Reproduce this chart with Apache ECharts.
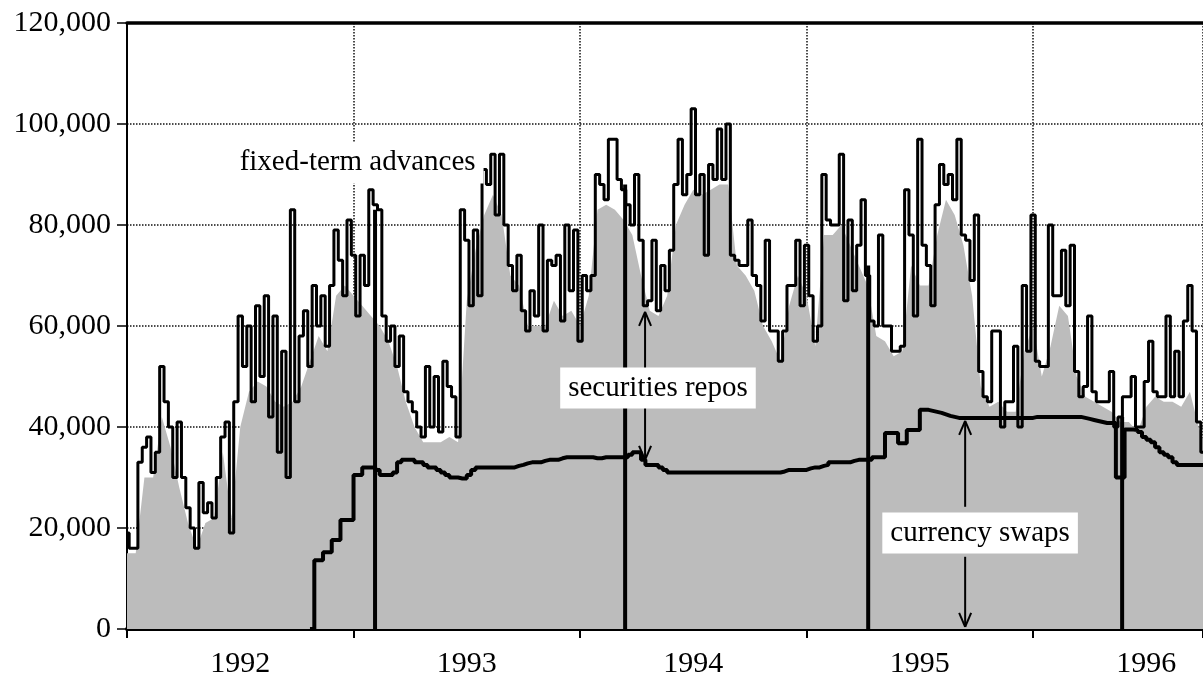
<!DOCTYPE html>
<html><head><meta charset="utf-8">
<script src="https://cdn.jsdelivr.net/npm/echarts@6/dist/echarts.min.js"></script>
<style>html,body{margin:0;padding:0;background:#fff}#c{width:1203px;height:673px}</style>
</head><body><div id="c"></div>
<script>
// ---- data (thousands) ----
const yearTicks = [1992, 1993, 1994, 1995, 1996];
const yearLabels = ['1992', '1993', '1994', '1995', '1996'];

// total outstanding (weekly, from start of 1992)
const top1992 = [19,16,16,33,36,38,31,35,52,45,40,30,41,30,24,20,16,29,23,25,22,30,38,41,19,45,62,52,60,45,64,50,66,42,62,35,55,30,83,45,58,63,52,68,60,66,56,68,79,73,66,81];
const top1993 = [74,62,74,68,87,84,83,62,57,60,52,58,47,45,43,40,38,52,40,50,39,53,48,46,38,83,77,64,79,66,91,88,94,82,94,80,72,67,74,63,59,67,62,80,59,73,72,74,61,80,67,79];
const top1994 = [57,70,67,70,90,88,85,97,97,89,87,84,80,90,77,64,65,77,63,72,67,75,88,97,86,90,103,86,90,74,92,89,99,89,100,74,73,72,72,81,70,68,61,77,59,59,53,59,68,68,77,64];
const top1995 = [76,66,57,60,90,81,80,80,94,65,81,67,76,85,70,61,60,78,60,60,55,55,56,87,78,62,97,76,72,64,84,92,88,90,85,97,78,77,69,82,51,46,45,59,59,40,45,45,56,40,68,55];
const top1996 = [82,53,52,52,80,66,66,75,64,76,51,46,48,62,47,45,45,45,51,40,42,46,46,50,40,40,49,57,47,46,46,62,46,55,46,61,68,59,41,35];

// shaded base level (fortnightly)
const fill1992 = [15,15,30,30,42,36,28,21,16,21,22,35,22,40,47,49,48,45,44,45,48,53,58,55,66,68];
const fill1993 = [66,64,62,60,57,52,45,40,37,37,37,38,37,65,75,82,86,82,70,68,60,60,60,65,62,63];
const fill1994 = [60,66,83,84,83,81,78,70,63,62,66,80,84,87,86,87,88,88,72,70,67,60,57,53,64,70];
const fill1995 = [66,56,78,78,80,76,72,68,58,57,54,55,72,68,68,78,85,82,76,66,48,44,45,43,43,55];
const fill1996 = [60,50,56,64,62,50,46,45,44,43,41,41,39,44,46,45,45,44,47,40,35];

// currency swaps (weekly, from week 42 of 1992)
const swap1992 = [0,13.6,13.6,15.2,15.2,17.6,17.6,21.6,21.6,21.6];
const swap1993 = [30.5,30.5,32,32,32,31.5,30.5,30.5,30.5,31,33,33.5,33.5,33.5,33,33,32.5,32,32,31.5,31,30.5,30,30,29.8,29.8,30.5,31.5,32,32,32,32,32,32,32,32,32,32.3,32.5,32.8,33,33,33,33.3,33.5,33.5,33.5,33.8,34,34,34,34];
const swap1994 = [34,34,34,33.8,33.8,34,34,34,34,34,34,34.5,35,35,33.5,32.5,32.5,32.5,32,31.5,31,31,31,31,31,31,31,31,31,31,31,31,31,31,31,31,31,31,31,31,31,31,31,31,31,31,31.2,31.5,31.5,31.5,31.5,31.5];
const swap1995 = [31.8,32,32,32.3,32.5,33,33,33,33,33,33.3,33.5,33.5,33.5,33.5,34,34,34,38.8,38.8,38.8,36.8,36.8,39.4,39.4,39.4,43.4,43.4,43.2,43,42.8,42.5,42.2,42,41.8,41.8,41.8,41.8,41.8,41.8,41.8,41.8,41.8,41.8,41.8,41.8,41.8,41.8,41.8,41.8,41.8,41.8];
const swap1996 = [42,42,42,42,42,42,42,42,42,42,42,41.8,41.6,41.4,41.2,41,40.8,40.8,40.8,30,30,39.5,39.5,39.4,39,38,37.5,37,36,35,34.5,34,33,32.5,32.5,32.5,32.5,32.5,32.5,32.5];

// one-day drops of the total to zero (date as fractional year, level before drop)
const dropDates = [1993.095, 1994.199, 1995.272, 1996.393];
const dropTops = [83, 88, 72, 42];

// annotations: text, anchor (year, thousands)
const annotTexts = ['fixed-term advances', 'securities repos', 'currency swaps'];
const annotX = [1993.018, 1994.344, 1995.766];
const annotY = [92.3, 47.7, 19.0];
// arrows: year, from, to (thousands)
const arrowX = [1994.287, 1994.287, 1995.700, 1995.700];
const arrowFrom = [51.3, 43.8, 24.2, 14.3];
const arrowTo = [62.8, 33.5, 41.2, 0.4];

// ---- build ----
const K = 1000;
const topAll = [].concat(top1992, top1993, top1994, top1995, top1996);
const fillAll = [].concat(fill1992, fill1993, fill1994, fill1995, fill1996);
const swapAll = [].concat(swap1992, swap1993, swap1994, swap1995, swap1996);
const topData = topAll.map((v, i) => [1992 + i / 52, v * K]);
const fillData = fillAll.map((v, j) => [1992 + j / 26, v * K]);
const swapData = swapAll.map((v, k) => [1992 + (k + 42) / 52, v * K]);
const dropData = dropDates.map((d, i) => [d, dropTops[i] * K]);
const annotData = annotTexts.map((t, i) => ({ value: [annotX[i], annotY[i] * K], name: t }));
const arrowData = arrowX.map((x, i) => [x, arrowFrom[i] * K, arrowTo[i] * K]);

const FONT = "'Liberation Serif', 'Times New Roman', serif";
const chart = echarts.init(document.getElementById('c'), null, { renderer: 'canvas' });

chart.setOption({
  animation: false,
  backgroundColor: '#fff',
  grid: { left: 127, right: 0, top: 23, bottom: 44, containLabel: false, outerBoundsMode: 'none' },
  xAxis: [{
    type: 'value', min: yearTicks[0], max: 1996.75, interval: 1,
    axisLine: { show: true, onZero: false, lineStyle: { color: '#000', width: 4 } },
    axisTick: { show: true, length: 9, lineStyle: { color: '#000', width: 2 } },
    axisLabel: {
      customValues: yearTicks.map(y => y + 0.5),
      formatter: v => yearLabels[yearTicks.indexOf(Math.floor(v))] || '',
      fontFamily: FONT, fontSize: 30, color: '#000', margin: 20
    },
    splitLine: { show: true, lineStyle: { color: '#111', type: 'dotted', width: 1.5 } }
  }, {
    type: 'value', position: 'top', min: yearTicks[0], max: 1996.75,
    axisLine: { show: true, onZero: false, lineStyle: { color: '#000', width: 3.5 } },
    axisTick: { show: false }, axisLabel: { show: false }, splitLine: { show: false }
  }],
  yAxis: {
    type: 'value', min: 0, max: 120000, interval: 20000,
    axisLine: { show: true, lineStyle: { color: '#000', width: 2 } },
    axisTick: { show: true, length: 10, lineStyle: { color: '#000', width: 1.5 } },
    axisLabel: {
      formatter: v => v.toLocaleString('en-US'),
      fontFamily: FONT, fontSize: 30, color: '#000', margin: 16
    },
    splitLine: { show: true, lineStyle: { color: '#111', type: 'dotted', width: 1.5 } }
  },
  series: [
    {
      name: 'base', type: 'line', data: fillData, showSymbol: false, silent: true,
      lineStyle: { width: 0 }, areaStyle: { color: '#bcbcbc', opacity: 1 }, z: 2
    },
    {
      name: 'total', type: 'line', data: topData, showSymbol: false, step: 'middle', silent: true,
      lineStyle: { color: '#000', width: 3 }, z: 4
    },
    {
      name: 'currency swaps', type: 'line', data: swapData, showSymbol: false, step: 'end', silent: true,
      lineStyle: { color: '#000', width: 4 }, z: 5
    },
    {
      name: 'drops', type: 'custom', data: dropData, silent: true, z: 5,
      encode: { x: 0, y: 1 },
      renderItem: (params, api) => {
        const p0 = api.coord([api.value(0), 0]);
        const p1 = api.coord([api.value(0), api.value(1)]);
        return { type: 'line', shape: { x1: p0[0], y1: p0[1], x2: p1[0], y2: p1[1] },
          style: { stroke: '#000', lineWidth: 4 } };
      }
    },
    {
      name: 'arrows', type: 'custom', data: arrowData, silent: true, z: 7,
      encode: { x: 0, y: [1, 2] },
      renderItem: (params, api) => {
        const a = api.coord([api.value(0), api.value(1)]);
        const b = api.coord([api.value(0), api.value(2)]);
        const dir = b[1] < a[1] ? 1 : -1;
        const st = { stroke: '#000', lineWidth: 2 };
        return { type: 'group', children: [
          { type: 'line', shape: { x1: a[0], y1: a[1], x2: b[0], y2: b[1] }, style: st },
          { type: 'line', shape: { x1: b[0], y1: b[1], x2: b[0] - 6, y2: b[1] + dir * 14 }, style: st },
          { type: 'line', shape: { x1: b[0], y1: b[1], x2: b[0] + 6, y2: b[1] + dir * 14 }, style: st }
        ] };
      }
    },
    {
      name: 'labels', type: 'scatter', data: annotData, symbolSize: 0, silent: true, z: 8,
      itemStyle: { opacity: 1 },
      label: {
        show: true, position: 'inside', formatter: p => p.name,
        fontFamily: FONT, fontSize: 29, color: '#000', opacity: 1,
        backgroundColor: '#fff', padding: [6, 8]
      }
    }
  ]
});
</script></body></html>
